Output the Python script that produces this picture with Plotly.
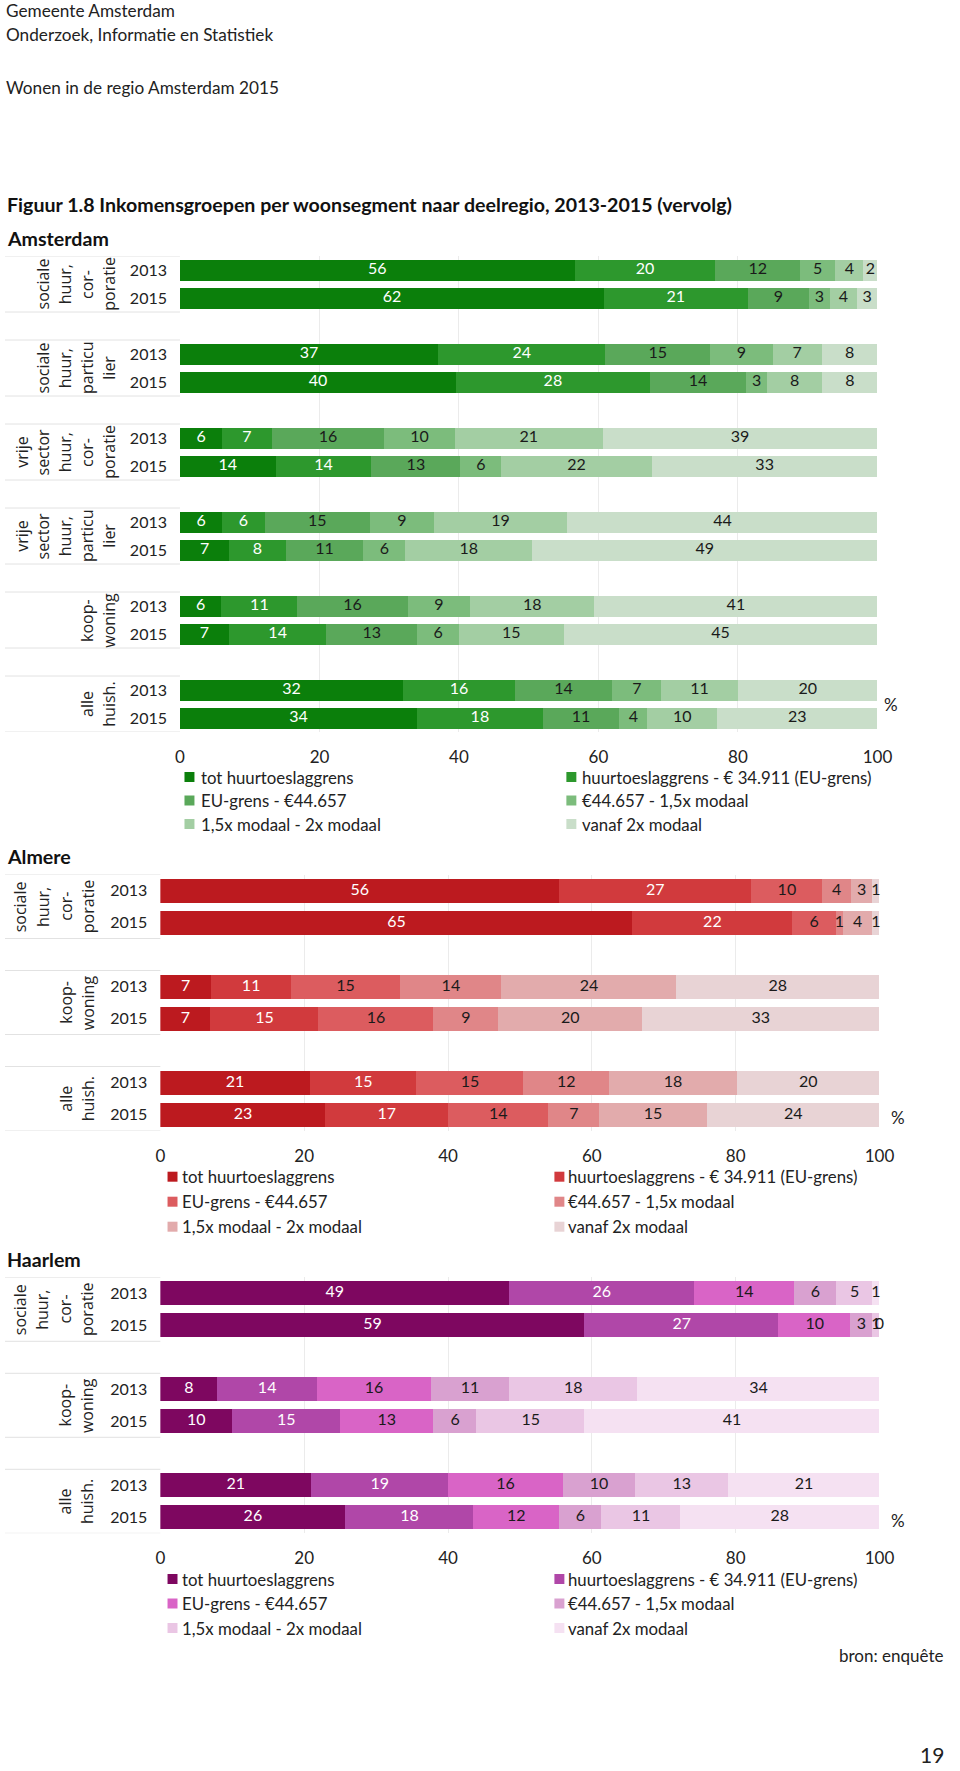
import plotly.graph_objects as go
import numpy as np

W, H = 960, 1771

# ---------------- data ----------------
categories = [
    "tot huurtoeslaggrens",
    "huurtoeslaggrens - € 34.911 (EU-grens)",
    "EU-grens - €44.657",
    "€44.657 - 1,5x modaal",
    "1,5x modaal - 2x modaal",
    "vanaf 2x modaal",
]
years = ["2013", "2015"]

# Amsterdam
ams_segments = [
    ["sociale", "huur,", "cor-", "poratie"],
    ["sociale", "huur,", "particu", "lier"],
    ["vrije", "sector", "huur,", "cor-", "poratie"],
    ["vrije", "sector", "huur,", "particu", "lier"],
    ["koop-", "woning"],
    ["alle", "huish."],
]
ams_2013 = [
    [56, 20, 12, 5, 4, 2],
    [37, 24, 15, 9, 7, 8],
    [6, 7, 16, 10, 21, 39],
    [6, 6, 15, 9, 19, 44],
    [6, 11, 16, 9, 18, 41],
    [32, 16, 14, 7, 11, 20],
]
ams_2015 = [
    [62, 21, 9, 3, 4, 3],
    [40, 28, 14, 3, 8, 8],
    [14, 14, 13, 6, 22, 33],
    [7, 8, 11, 6, 18, 49],
    [7, 14, 13, 6, 15, 45],
    [34, 18, 11, 4, 10, 23],
]

# Almere
alm_segments = [
    ["sociale", "huur,", "cor-", "poratie"],
    ["koop-", "woning"],
    ["alle", "huish."],
]
alm_2013 = [
    [56, 27, 10, 4, 3, 1],
    [7, 11, 15, 14, 24, 28],
    [21, 15, 15, 12, 18, 20],
]
alm_2015 = [
    [65, 22, 6, 1, 4, 1],
    [7, 15, 16, 9, 20, 33],
    [23, 17, 14, 7, 15, 24],
]

# Haarlem
haa_segments = [
    ["sociale", "huur,", "cor-", "poratie"],
    ["koop-", "woning"],
    ["alle", "huish."],
]
haa_2013 = [
    [49, 26, 14, 6, 5, 1],
    [8, 14, 16, 11, 18, 34],
    [21, 19, 16, 10, 13, 21],
]
haa_2015 = [
    [59, 27, 10, 3, 1, 0],
    [10, 15, 13, 6, 15, 41],
    [26, 18, 12, 6, 11, 28],
]

x_ticks = [0, 20, 40, 60, 80, 100]

green = ["#0B7F0B", "#2D982D", "#5AA85A", "#7CBC7C", "#A3CEA3", "#C9DEC9"]
red = ["#BC1A1F", "#D13A3D", "#DC5C5F", "#E08688", "#E2ABAC", "#E8D3D5"]
purple = ["#7E0760", "#B047A8", "#D964C6", "#D9A1D0", "#EAC6E4", "#F5E1F2"]

# ---------------- layout geometry (target pixels) ----------------
panels = [
    dict(name="Amsterdam", seg=ams_segments, d13=ams_2013, d15=ams_2015, colors=green,
         x0=178.5, x1=878, ytop=256, slot=28, bw=0.75, lab_last=107, lab_sp=21.8,
         tick_gap=12, leg_rows=[777, 800.5, 824], leg_mx=[183, 566], leg_tx=[198, 580],
         pct=(883, 704), title_y=238),
    dict(name="Almere", seg=alm_segments, d13=alm_2013, d15=alm_2015, colors=red,
         x0=158.8, x1=880, ytop=874.5, slot=32, bw=0.76, lab_last=86, lab_sp=22.7,
         tick_gap=12, leg_rows=[1176.7, 1201.7, 1226.7], leg_mx=[166, 554], leg_tx=[178.5, 566],
         pct=(890, 1117), title_y=857),
    dict(name="Haarlem", seg=haa_segments, d13=haa_2013, d15=haa_2015, colors=purple,
         x0=158.8, x1=880, ytop=1277.3, slot=32, bw=0.76, lab_last=86, lab_sp=22.7,
         tick_gap=12, leg_rows=[1579, 1603.5, 1628], leg_mx=[166, 554], leg_tx=[178.5, 566],
         pct=(890, 1520), title_y=1259),
]

FONT = "Lato"
TXT = "#222222"

# the page photograph is squeezed horizontally a little (measured), compensate
SX, OX = 0.982, 3.0


def px(x):
    p = (x - OX) / SX
    return min(max(p, 0), W) / W


def py(y):
    return 1 - y / H


fig = go.Figure()
annotations = []
shapes = []
layout_axes = {}

for k, p in enumerate(panels, start=1):
    xa = "x" if k == 1 else f"x{k}"
    ya = "y" if k == 1 else f"y{k}"
    ngroups = len(p["seg"])
    nslots = ngroups * 3 - 1
    ybot = p["ytop"] + nslots * p["slot"]

    pos, ylab, rows = [], [], []
    for g in range(ngroups):
        for j, dset in enumerate([p["d13"], p["d15"]]):
            pos.append(g * 3 + j)
            ylab.append(years[j])
            rows.append(dset[g])
    rows = np.array(rows, dtype=float)
    shares = rows / rows.sum(axis=1, keepdims=True) * 100
    cum = np.cumsum(shares, axis=1)

    for c in range(len(categories)):
        fig.add_trace(go.Bar(
            x=shares[:, c], y=pos, orientation="h", width=p["bw"],
            marker=dict(color=p["colors"][c], line=dict(width=0)),
            name=categories[c], showlegend=False, hoverinfo="skip",
            xaxis=xa, yaxis=ya,
        ))
    for c in range(len(categories)):
        mid = cum[:, c] - shares[:, c] / 2
        fig.add_trace(go.Scatter(
            x=mid, y=pos, mode="text",
            text=[str(int(v)) for v in rows[:, c]],
            textposition="middle center",
            textfont=dict(family=FONT, size=16,
                          color="#FFFFFF" if c < 2 else "#1A1A1A"),
            showlegend=False, hoverinfo="skip", cliponaxis=False,
            xaxis=xa, yaxis=ya,
        ))

    axkey = "xaxis" if k == 1 else f"xaxis{k}"
    aykey = "yaxis" if k == 1 else f"yaxis{k}"
    layout_axes[axkey] = dict(
        domain=[px(p["x0"]), px(p["x1"])], anchor=ya, range=[0, 100],
        tickvals=x_ticks, ticktext=[str(t) for t in x_ticks],
        showgrid=True, gridcolor="#EBEBEB", gridwidth=1, zeroline=False,
        showline=False, ticks="", ticklabelstandoff=13,
        tickfont=dict(family=FONT, size=17, color=TXT), fixedrange=True,
    )
    layout_axes[aykey] = dict(
        domain=[py(ybot), py(p["ytop"])], anchor=xa,
        range=[nslots - 0.5, -0.5], tickvals=pos, ticktext=ylab,
        showgrid=False, zeroline=False, showline=False, ticks="",
        ticklabelstandoff=p["tick_gap"],
        tickfont=dict(family=FONT, size=16, color=TXT), fixedrange=True,
    )

    # group boxes in label column + rotated segment labels
    for g, lines in enumerate(p["seg"]):
        top = g * 3 - 0.5
        bot = g * 3 + 1.5
        for yy in (top, bot):
            shapes.append(dict(type="line", xref="paper", yref=ya,
                               x0=px(3), x1=px(p["x0"]), y0=yy, y1=yy,
                               line=dict(color="#E2E2E2", width=1)))
        n = len(lines)
        for i, t in enumerate(lines):
            xc = p["lab_last"] - (n - 1 - i) * p["lab_sp"]
            annotations.append(dict(
                text=t, xref="paper", yref=ya, x=px(xc), y=g * 3 + 0.5,
                xanchor="center", yanchor="middle", textangle=-90,
                showarrow=False, font=dict(family="Open Sans", size=16, color=TXT),
            ))

    # legend (two columns, three rows)
    for i, cat in enumerate(categories):
        col, row = i % 2, i // 2
        yc = p["leg_rows"][row]
        mx = p["leg_mx"][col]
        shapes.append(dict(type="rect", xref="paper", yref="paper",
                           x0=px(mx), x1=px(mx + 10), y0=py(yc + 5), y1=py(yc - 5),
                           fillcolor=p["colors"][i], line=dict(width=0)))
        annotations.append(dict(
            text=cat, xref="paper", yref="paper", x=px(p["leg_tx"][col]), y=py(yc),
            xanchor="left", yanchor="middle", showarrow=False,
            font=dict(family=FONT, size=16.8, color=TXT),
        ))

    # % sign
    annotations.append(dict(text="%", xref="paper", yref="paper",
                            x=px(p["pct"][0]), y=py(p["pct"][1]),
                            xanchor="left", yanchor="middle", showarrow=False,
                            font=dict(family=FONT, size=17, color=TXT)))
    # region title
    annotations.append(dict(text="<b>" + p["name"] + "</b>", xref="paper", yref="paper",
                            x=px(1), y=py(p["title_y"]), xanchor="left", yanchor="middle",
                            showarrow=False, font=dict(family=FONT, size=19.6, color="#111111")))

# page header/footer texts
for txt, yy in [("Gemeente Amsterdam", 8), ("Onderzoek, Informatie en Statistiek", 33),
                ("Wonen in de regio Amsterdam 2015", 85)]:
    annotations.append(dict(text=txt, xref="paper", yref="paper", x=px(2), y=py(yy + 2),
                            xanchor="left", yanchor="middle", showarrow=False, borderpad=0,
                            font=dict(family=FONT, size=17.2, color="#222222")))
annotations.append(dict(
    text="<b>Figuur 1.8 Inkomensgroepen per woonsegment naar deelregio, 2013-2015 (vervolg)</b>",
    xref="paper", yref="paper", x=px(1), y=py(205), xanchor="left", yanchor="middle",
    showarrow=False, font=dict(family=FONT, size=19.6, color="#111111")))
annotations.append(dict(text="bron: enquête", xref="paper", yref="paper", x=px(960), y=py(1655),
                        xanchor="right", yanchor="middle", showarrow=False, borderpad=0,
                        font=dict(family=FONT, size=17, color=TXT)))
annotations.append(dict(text="19", xref="paper", yref="paper", x=px(951), y=py(1754),
                        xanchor="right", yanchor="middle", showarrow=False, borderpad=0,
                        font=dict(family=FONT, size=21, color=TXT)))

fig.update_layout(
    width=W, height=H, margin=dict(l=0, r=0, t=0, b=0),
    paper_bgcolor="white", plot_bgcolor="white",
    barmode="stack", bargap=0, showlegend=False,
    annotations=annotations, shapes=shapes,
    font=dict(family=FONT, color=TXT),
    **layout_axes,
)

css = "margin:0;padding:0;overflow:hidden;width:960px;height:1771px;"
fig.write_html(
    "out.html",
    config={"displayModeBar": False, "responsive": False},
    post_script=(
        "document.documentElement.style.cssText='" + css + "';"
        "document.body.style.cssText='" + css + "';"
    ),
)
